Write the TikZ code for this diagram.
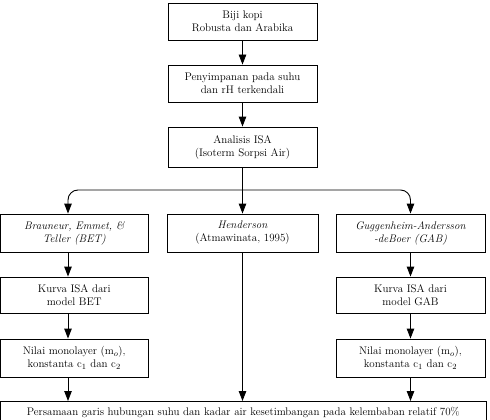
\documentclass[tikz,border=0pt]{standalone}
\usetikzlibrary{arrows.meta}
\begin{document}
\begin{tikzpicture}[x=1pt,y=-1pt,
  box/.style={draw, line width=0.9pt, align=center, inner sep=0pt,
    font=\fontsize{11}{13}\selectfont},
  arr/.style={line width=0.9pt, -{Triangle[length=10pt,width=7.5pt]}}]
\useasboundingbox (0,0) rectangle (490,420);
\node[box, minimum width=149, minimum height=37] (b1) at (242.5,21.5) {Biji kopi\\Robusta dan Arabika};
\node[box, minimum width=149, minimum height=37] (b2) at (242.5,83.5) {Penyimpanan pada suhu\\dan rH terkendali};
\node[box, minimum width=149, minimum height=40] (b3) at (242.5,147) {Analisis ISA\\(Isoterm Sorpsi Air)};
\node[box, minimum width=147.5, minimum height=38] (bet) at (74.25,233) {\itshape Brauneur, Emmet, \&\\\itshape Teller (BET)};
\node[box, minimum width=151, minimum height=38] (hen) at (242.5,233) {\itshape Henderson\\(Atmawinata, 1995)};
\node[box, minimum width=149, minimum height=38] (gab) at (410.5,233) {\itshape Guggenheim-Andersson\\\itshape -deBoer (GAB)};
\node[box, minimum width=147.5, minimum height=36] (kbet) at (74.25,295) {Kurva ISA dari\\model BET};
\node[box, minimum width=149, minimum height=36] (kgab) at (410.5,295) {Kurva ISA dari\\model GAB};
\node[box, minimum width=147.5, minimum height=38] (nbet) at (74.25,358) {Nilai monolayer (m$_o$),\\konstanta c$_1$ dan c$_2$};
\node[box, minimum width=149, minimum height=38] (ngab) at (410.5,358) {Nilai monolayer (m$_o$),\\konstanta c$_1$ dan c$_2$};
\node[box, anchor=north, minimum width=485.5, text height=14pt, text depth=20pt] (eq) at (243.25,401) {Persamaan garis hubungan suhu dan kadar air kesetimbangan pada kelembaban relatif 70\%};
\coordinate (lx) at (68,0);
\coordinate (hy) at (0,190);
\draw[arr] (b1) -- (b2);
\draw[arr] (b2) -- (b3);
\draw[arr] (b3.south) -- (hen.north);
\draw[arr, rounded corners=10pt] (b3.south |- hy) -| (bet.north -| lx);
\draw[arr, rounded corners=10pt] (b3.south |- hy) -| (gab.north);
\draw[arr] (bet.south -| lx) -- (kbet.north -| lx);
\draw[arr] (kbet.south -| lx) -- (nbet.north -| lx);
\draw[arr] (nbet.south -| lx) -- (eq.north -| lx);
\draw[arr] (hen.south) -- (eq.north -| hen.south);
\draw[arr] (gab) -- (kgab);
\draw[arr] (kgab) -- (ngab);
\draw[arr] (ngab.south) -- (eq.north -| ngab.south);
\end{tikzpicture}
\end{document}
